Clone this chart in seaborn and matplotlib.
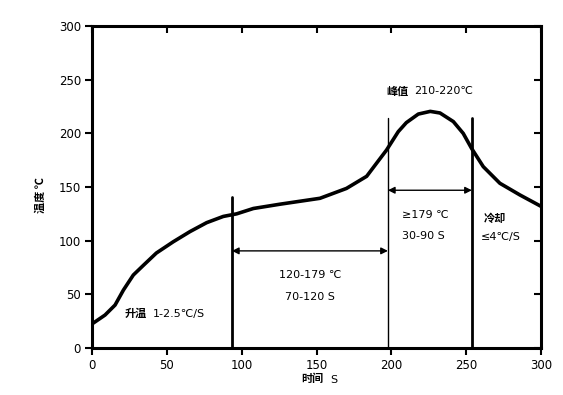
import matplotlib
matplotlib.use("Agg")
import matplotlib.pyplot as plt
import matplotlib.lines as mlines
import seaborn as sns
import pandas as pd

# Reflow profile
time_s = [0, 8.7, 15.4, 21, 27.6, 34.3, 43, 54.3, 65.5, 76.6, 87.7, 96.6,
          107.8, 125.6, 152.3, 170, 183.5, 190, 196.8, 204.6, 210, 218, 226,
          232.5, 241.4, 248, 253.6, 261.4, 272.5, 285.9, 300]
temp_c = [22.4, 30.7, 40, 54, 68, 77, 88.5, 99, 108.5, 116.8, 122.6, 125,
          130, 134, 139.5, 148.7, 160, 172, 184.5, 201.6, 210, 218, 220.5,
          219, 211, 200, 186, 169, 153.5, 142.6, 132]

zone_lines_x = [93.5, 197.7, 253.8]
zone_lines_top = [141, 214, 214]
zone_lines_width = [2.0, 1.0, 2.0]

xticks = [0, 50, 100, 150, 200, 250, 300]
yticks = [0, 50, 100, 150, 200, 250, 300]

sns.set_style("ticks")
plt.rcParams['font.family'] = ['DejaVu Sans', 'Noto Sans CJK SC']
plt.rcParams['text.color'] = 'black'
plt.rcParams['xtick.color'] = 'black'
plt.rcParams['ytick.color'] = 'black'
plt.rcParams['axes.labelcolor'] = 'black'
CJK = ['Noto Sans CJK SC', 'DejaVu Sans']
LAT = ['DejaVu Sans', 'Noto Sans CJK SC']

fig = plt.figure(figsize=(5.63, 3.95), dpi=100)
ax = fig.add_axes([0.1634, 0.119, 0.7976, 0.815])

df = pd.DataFrame({"t": time_s, "T": temp_c})
sns.lineplot(data=df, x="t", y="T", ax=ax, color="black", linewidth=2.6)

for x, top, lw in zip(zone_lines_x, zone_lines_top, zone_lines_width):
    ax.plot([x, x], [0, top], color="black", linewidth=lw)

arrow_kw = dict(arrowstyle="<|-|>", color="black", lw=1.0,
                mutation_scale=10, shrinkA=0, shrinkB=0)
ax.annotate("", xy=(zone_lines_x[0], 90.5), xytext=(zone_lines_x[1], 90.5),
            arrowprops=arrow_kw)
ax.annotate("", xy=(zone_lines_x[1], 147), xytext=(zone_lines_x[2], 147),
            arrowprops=arrow_kw)

fs = 8
ax.text(22, 32, "升温", fontsize=fs, fontweight="bold", family=CJK, ha="left", va="center")
ax.text(40.5, 32, "1-2.5℃/S", fontsize=fs, family=LAT, ha="left", va="center")
ax.text(145.5, 68, "120-179 ℃", fontsize=fs, family=LAT, ha="center", va="center")
ax.text(145.5, 47.5, "70-120 S", fontsize=fs, family=LAT, ha="center", va="center")
ax.text(207, 124, "≥179 ℃", fontsize=fs, family=LAT, ha="left", va="center")
ax.text(207, 104, "30-90 S", fontsize=fs, family=LAT, ha="left", va="center")
ax.text(262, 121, "冷却", fontsize=fs, fontweight="bold", family=CJK, ha="left", va="center")
ax.text(259.5, 103, "≤4℃/S", fontsize=fs, family=LAT, ha="left", va="center")
ax.text(197, 239.5, "峰值", fontsize=fs, fontweight="bold", family=CJK, ha="left", va="center")
ax.text(215.5, 239.5, "210-220℃", fontsize=fs, family=LAT, ha="left", va="center")

ax.set_xlim(0, 300)
ax.set_ylim(0, 300)
ax.set_xticks(xticks)
ax.set_yticks(yticks)
ax.tick_params(axis="both", which="both", direction="out", length=5, width=1.5,
               labelsize=8.5, pad=3, colors="black")
ax.tick_params(axis="x", top=True, labeltop=False)
ax.tick_params(axis="y", right=True, labelright=False)

# inward top/right ticks
for t in ax.xaxis.get_major_ticks():
    t.tick2line.set_marker(mlines.TICKDOWN)
    t.tick2line.set_markersize(5)
for t in ax.yaxis.get_major_ticks():
    t.tick2line.set_marker(mlines.TICKLEFT)
    t.tick2line.set_markersize(5)

for sp in ax.spines.values():
    sp.set_linewidth(2.2)
    sp.set_color("black")

ax.set_xlabel("")
ax.set_ylabel("")
fig.text(0.574, 0.025, "时间", fontsize=fs, fontweight="bold", family=CJK, ha="right", va="bottom")
fig.text(0.586, 0.025, "S", fontsize=fs, family=LAT, ha="left", va="bottom")
fig.text(0.072, 0.505, "温度 ℃", fontsize=fs, fontweight="bold", family=CJK, rotation=90,
         ha="center", va="center")

fig.savefig("out.png", dpi=100, facecolor="white")
